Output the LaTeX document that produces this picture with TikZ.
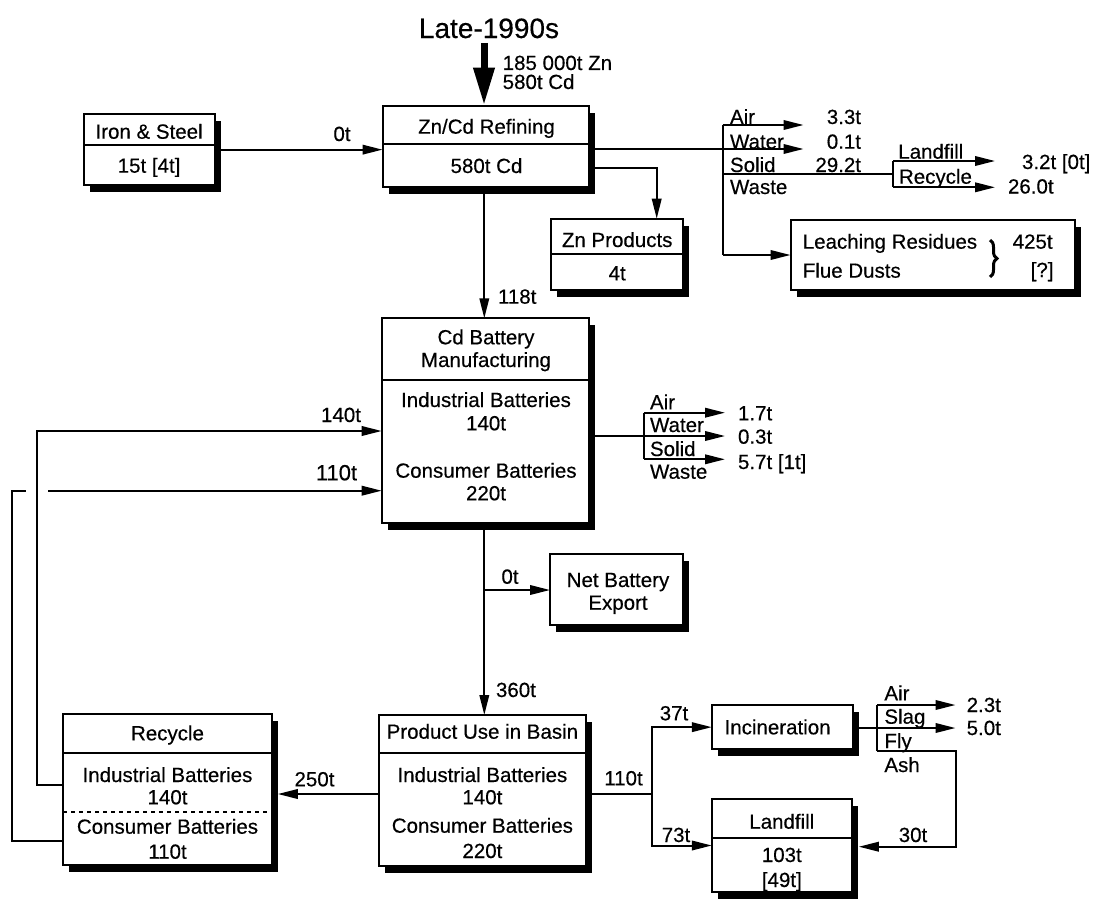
\documentclass[tikz,border=0pt]{standalone}
\usepackage{fontspec}
\setmainfont{Liberation Sans}[FakeBold=0.4]
\usetikzlibrary{arrows.meta,shadows,decorations.pathreplacing,calc}
\newcommand\myfs{\fontsize{20.5}{24}\selectfont}
\begin{document}
\begin{tikzpicture}[x=1pt,y=-1pt,
  every node/.style={inner sep=0pt, outer sep=0pt},
  box/.style={draw, line width=2pt, fill=white,
    drop shadow={shadow xshift=6pt, shadow yshift=-7pt, opacity=1, fill=black}},
  ln/.style={line width=2pt},
  arr/.style={line width=2pt, -{Triangle[length=20pt,width=9.5pt]}},
  tx/.style={font=\myfs, anchor=base, yshift=-7pt},
  txl/.style={tx, anchor=base west},
  txr/.style={tx, anchor=base east},
]
\fill[white] (0,0) rectangle (1099,899);
\useasboundingbox (0,0) rectangle (1099,899);

% ---------- boxes ----------
\node[box, minimum width=131.2pt, minimum height=70.7pt] (iron) at (149.1,149.65) {};
\node[box, minimum width=206.8pt, minimum height=81.5pt] (zncd) at (485.9,146.25) {};
\node[box, minimum width=132.3pt, minimum height=71.3pt] (znp) at (617.2,254.35) {};
\node[box, minimum width=284.5pt, minimum height=70pt] (leach) at (932.75,255) {};
\node[box, minimum width=207.6pt, minimum height=204.4pt] (cdb) at (485.5,420.5) {};
\node[box, minimum width=132.7pt, minimum height=71pt] (nbe) at (616.35,589.5) {};
\node[box, minimum width=208.7pt, minimum height=150.7pt] (rec) at (167.45,789.65) {};
\node[box, minimum width=207.2pt, minimum height=150.7pt] (puse) at (482.4,790.35) {};
\node[box, minimum width=141.1pt, minimum height=44.3pt] (inc) at (782.35,727.15) {};
\node[box, minimum width=140pt, minimum height=92.4pt] (lf) at (781.8,845.5) {};

% dividers
\coordinate (d1) at (0,145);
\draw[ln] (d1 -| iron.west) -- (d1 -| iron.east);
\coordinate (d2) at (0,143.5);
\draw[ln] (d2 -| zncd.west) -- (d2 -| zncd.east);
\coordinate (d3) at (0,254.3);
\draw[ln] (d3 -| znp.west) -- (d3 -| znp.east);
\coordinate (d4) at (0,380);
\draw[ln] (d4 -| cdb.west) -- (d4 -| cdb.east);
\coordinate (d5) at (0,752.7);
\draw[ln] (d5 -| rec.west) -- (d5 -| rec.east);
\draw[ln] (d5 -| puse.west) -- (d5 -| puse.east);
\coordinate (d6) at (0,811.7);
\draw[line width=1.8pt, dash pattern=on 4pt off 4pt] (d6 -| rec.west) -- (d6 -| rec.east);
\coordinate (d7) at (0,837.7);
\draw[ln] (d7 -| lf.west) -- (d7 -| lf.east);

% ---------- connectors ----------
\coordinate (late) at (484,43);
\draw[line width=7pt, -{Triangle[length=38pt,width=20pt]}] (late) -- (late |- zncd.north);
\draw[arr] (iron.east) -- (iron.east -| zncd.west);
\coordinate (v1) at (484.3,0);
\draw[arr] (v1 |- zncd.south) -- (v1 |- cdb.north);
\coordinate (zb) at (656.7,167.7);
\draw[arr] (zb -| zncd.east) -- (zb) -- (zb |- znp.north);

% Zn/Cd emissions
\coordinate (e1) at (722.7,125);
\coordinate (e2) at (722.7,149);
\coordinate (e3) at (722.7,174);
\coordinate (e4) at (722.7,255);
\coordinate (et) at (803.5,0);
\coordinate (l1) at (893.3,161);
\coordinate (l2) at (893.3,187.3);
\coordinate (lt) at (995,0);
\draw[ln] (e1) -- (e4);
\draw[arr] (e1) -- (e1 -| et);
\draw[arr] (e2 -| zncd.east) -- (e2 -| et);
\draw[ln] (e3) -- (e3 -| l1);
\draw[arr] (e4) -- (e4 -| leach.west);
\draw[ln] (l1) -- (l2);
\draw[arr] (l1) -- (l1 -| lt);
\draw[arr] (l2) -- (l2 -| lt);
\coordinate (bra1) at (990,240);
\coordinate (bra2) at (990,277);
\draw[line width=3pt, decorate, decoration={brace, amplitude=7pt}] (bra1) -- (bra2);

% Cd battery emissions
\coordinate (f1) at (643.8,412.7);
\coordinate (f2) at (643.8,436);
\coordinate (f3) at (643.8,459.3);
\coordinate (ft) at (725,0);
\draw[ln] (f1) -- (f3);
\draw[arr] (f1) -- (f1 -| ft);
\draw[arr] (f2 -| cdb.east) -- (f2 -| ft);
\draw[arr] (f3) -- (f3 -| ft);

% battery flow down
\coordinate (v2) at (484.3,0);
\draw[arr] (v2 |- cdb.south) -- (v2 |- puse.north);
\coordinate (b1) at (484.3,590);
\draw[arr] (b1) -- (b1 -| nbe.west);

% product use -> recycle
\coordinate (h1) at (0,794);
\draw[arr] (h1 -| puse.west) -- ($(h1 -| rec.east)+(6,0)$);

% recycle -> manufacturing
\coordinate (c1a) at (36.8,785.3);
\coordinate (c1b) at (36.8,431);
\draw[arr] (c1a -| rec.west) -- (c1a) -- (c1b) -- (c1b -| cdb.west);
\coordinate (c2a) at (12.3,841);
\coordinate (c2b) at (12.3,490.7);
\coordinate (g1) at (26.3,490.7);
\coordinate (g2) at (48,490.7);
\draw[ln] (c2a -| rec.west) -- (c2a) -- (c2b) -- (g1);
\draw[arr] (g2) -- (g2 -| cdb.west);

% product use -> incineration / landfill
\coordinate (p1) at (652.2,794);
\draw[ln] (p1 -| puse.east) -- (p1);
\draw[arr] (p1) -- (p1 |- inc.west) -- (inc.west);
\draw[arr] (p1) -- (p1 |- lf.west) -- (lf.west);

% incineration outputs
\coordinate (k1) at (877.4,705);
\coordinate (k2) at (877.4,728);
\coordinate (k3) at (877.4,751);
\coordinate (kt) at (955.5,0);
\coordinate (kd) at (956.2,846.7);
\draw[ln] (k1) -- (k3);
\draw[arr] (k1) -- (k1 -| kt);
\draw[arr] (k2 -| inc.east) -- (k2 -| kt);
\draw[arr] (k3) -- (k3 -| kd) -- (kd) -- ($(kd -| lf.east)+(7,0)$);

% ---------- texts ----------
\node[font=\fontsize{28}{32}\selectfont, anchor=base, yshift=-10pt] (tlate) at (489,28) {Late-1990s};
\node[txl] (tin1) at (502.7,63) {185 000t Zn};
\node[txl] (tin2) at (502.7,82) {580t Cd};

\node[tx] (tiron1) at (149.1,131.7) {Iron \& Steel};
\node[tx] (tiron2) at (149.1,165.7) {15t [4t]};
\node[tx] (t0a) at (342,134) {0t};

\node[tx] (tzn1) at (486.5,126.7) {Zn/Cd Refining};
\node[tx] (tzn2) at (486.5,166) {580t Cd};

\node[tx] (tznp1) at (617.2,240) {Zn Products};
\node[tx] (tznp2) at (617.2,273.3) {4t};

\node[txl] (tle1) at (802.8,241.7) {Leaching Residues};
\node[txl] (tle2) at (802.8,270.7) {Flue Dusts};
\node[txl] (tle3) at (1012.7,241.7) {425t};
\node[txl] (tle4) at (1030.7,270) {[?]};

\node[txl] (ea) at (730,117) {Air};
\node[txl] (ew) at (730,141.7) {Water};
\node[txl] (es) at (730,165) {Solid};
\node[txl] (ews) at (730,187) {Waste};
\node[txr] (eva) at (861,117) {3.3t};
\node[txr] (evw) at (861,141.7) {0.1t};
\node[txr] (evs) at (861,165) {29.2t};
\node[txl] (elf) at (898.3,151.7) {Landfill};
\node[txl] (erc) at (899,176.7) {Recycle};
\node[txl] (evlf) at (1022,162) {3.2t [0t]};
\node[txl] (evrc) at (1008,186.5) {26.0t};

\node[txl] (t118) at (498,296.7) {118t};

\node[tx] (tcd1) at (486,337.3) {Cd Battery};
\node[tx] (tcd2) at (486,360) {Manufacturing};
\node[tx] (tcd3) at (486,400) {Industrial Batteries};
\node[tx] (tcd4) at (486,423.3) {140t};
\node[tx] (tcd5) at (486,470.7) {Consumer Batteries};
\node[tx] (tcd6) at (486,493.3) {220t};

\node[txl] (fa) at (650,402.3) {Air};
\node[txl] (fw) at (650,425) {Water};
\node[txl] (fs) at (650,449) {Solid};
\node[txl] (fws) at (650,471.7) {Waste};
\node[txl] (fva) at (738,413.3) {1.7t};
\node[txl] (fvw) at (738,436.7) {0.3t};
\node[txl] (fvs) at (738,462) {5.7t [1t]};

\node[tx] (t140) at (341,415) {140t};
\node[tx, font=\fontsize{22}{26}\selectfont] (t110) at (336.5,473.3) {110t};

\node[tx] (t0b) at (510,576.7) {0t};
\node[tx] (tnbe1) at (618,580) {Net Battery};
\node[tx] (tnbe2) at (618,602.7) {Export};
\node[txl] (t360) at (496,690) {360t};

\node[tx] (trec1) at (167.5,733.3) {Recycle};
\node[tx] (trec2) at (167.5,775) {Industrial Batteries};
\node[tx] (trec3) at (167.5,797.3) {140t};
\node[tx] (trec4) at (167.5,826.7) {Consumer Batteries};
\node[tx] (trec5) at (167.5,851.7) {110t};
\node[tx] (t250) at (314.5,779.3) {250t};

\node[tx] (tpu1) at (482.4,731.7) {Product Use in Basin};
\node[tx] (tpu2) at (482.4,775) {Industrial Batteries};
\node[tx] (tpu3) at (482.4,797.3) {140t};
\node[tx] (tpu4) at (482.4,825.7) {Consumer Batteries};
\node[tx] (tpu5) at (482.4,851) {220t};

\node[tx] (t110b) at (623.5,778.3) {110t};
\node[tx] (t37) at (674,713.3) {37t};
\node[tx] (t73) at (676,835) {73t};

\node[tx] (tinc) at (777.6,727.3) {Incineration};
\node[tx] (tlf1) at (781.8,821.7) {Landfill};
\node[tx] (tlf2) at (781.8,855) {103t};
\node[tx] (tlf3) at (781.8,880) {[49t]};

\node[txl] (ka) at (884.4,693.3) {Air};
\node[txl] (ks) at (884.4,716.7) {Slag};
\node[txl] (kf) at (884.4,741) {Fly};
\node[txl] (kash) at (884.4,765) {Ash};
\node[txl] (kva) at (966.7,705) {2.3t};
\node[txl] (kvs) at (966.7,728) {5.0t};
\node[tx] (t30) at (913,835) {30t};
\end{tikzpicture}
\end{document}
